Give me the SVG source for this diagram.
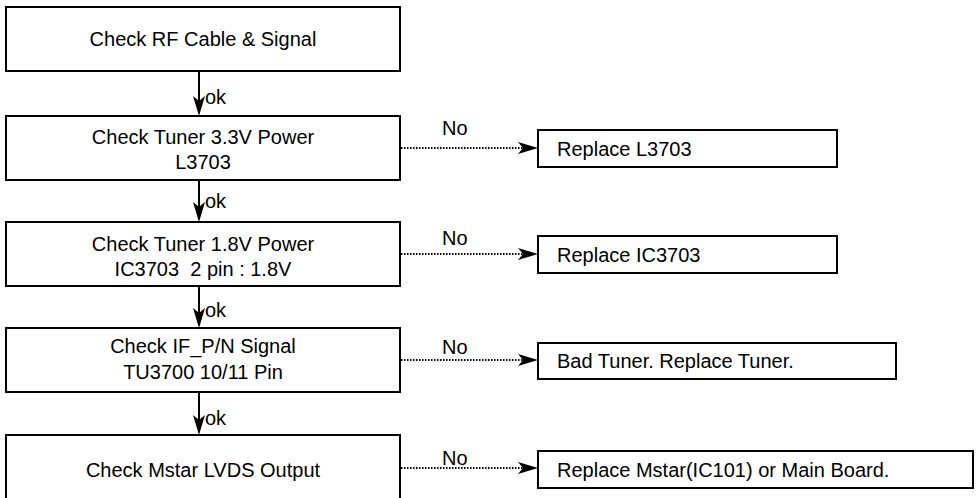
<svg xmlns="http://www.w3.org/2000/svg" width="976" height="498" viewBox="0 0 976 498">
<style>
.box{fill:#fff;stroke:#000;stroke-width:2}
text{font-family:"Liberation Sans",Arial,sans-serif;font-size:20px;fill:#000;white-space:pre}
.c{text-anchor:middle}
.solid{stroke:#000;stroke-width:2;fill:none}
.dot{stroke:#000;stroke-width:2;fill:none;stroke-dasharray:1.5 1.5}
</style>
<defs>
<marker id="ah" markerUnits="userSpaceOnUse" markerWidth="22" markerHeight="13" refX="8" refY="6" orient="auto">
<path d="M0,0 L20,6 L0,12 L5,6 Z" fill="#000"/>
</marker>
</defs>
<rect width="976" height="498" fill="#fff"/>
<g id="n1"><rect class="box" x="6" y="7" width="394" height="64"/><text class="c" x="203" y="46">Check RF Cable &amp; Signal</text></g>
<g id="n2"><rect class="box" x="6" y="116" width="394" height="64"/><text class="c" x="203" y="144">Check Tuner 3.3V Power</text><text class="c" x="203" y="169">L3703</text></g>
<g id="n3"><rect class="box" x="6" y="222" width="394" height="64"/><text class="c" x="203" y="251">Check Tuner 1.8V Power</text><text class="c" x="203" y="276" xml:space="preserve">IC3703  2 pin : 1.8V</text></g>
<g id="n4"><rect class="box" x="6" y="328" width="394" height="64"/><text class="c" x="203" y="353">Check IF_P/N Signal</text><text class="c" x="203" y="379">TU3700 10/11 Pin</text></g>
<g id="n5"><rect class="box" x="6" y="435" width="394" height="66"/><text class="c" x="203" y="477">Check Mstar LVDS Output</text></g>
<g id="r1"><rect class="box" x="538" y="130" width="299" height="37"/><text x="557" y="156">Replace L3703</text></g>
<g id="r2"><rect class="box" x="538" y="236" width="299" height="37"/><text x="557" y="262">Replace IC3703</text></g>
<g id="r3"><rect class="box" x="538" y="343" width="358" height="36"/><text x="557" y="368">Bad Tuner. Replace Tuner.</text></g>
<g id="r4"><rect class="box" x="538" y="451" width="435" height="37"/><text x="557" y="477">Replace Mstar(IC101) or Main Board.</text></g>
<g id="connectors">
<line class="solid" x1="199" y1="71" x2="199" y2="104" marker-end="url(#ah)"/>
<line class="solid" x1="199" y1="180" x2="199" y2="210" marker-end="url(#ah)"/>
<line class="solid" x1="199" y1="286" x2="199" y2="316" marker-end="url(#ah)"/>
<line class="solid" x1="199" y1="392" x2="199" y2="423" marker-end="url(#ah)"/>
<text x="205" y="104">ok</text>
<text x="205" y="208">ok</text>
<text x="205" y="317">ok</text>
<text x="205" y="425">ok</text>
<line class="dot" x1="401" y1="148" x2="526" y2="148" marker-end="url(#ah)"/>
<line class="dot" x1="401" y1="254" x2="526" y2="254" marker-end="url(#ah)"/>
<line class="dot" x1="401" y1="360" x2="526" y2="360" marker-end="url(#ah)"/>
<line class="dot" x1="401" y1="468" x2="526" y2="468" marker-end="url(#ah)"/>
<text x="442" y="135">No</text>
<text x="442" y="245">No</text>
<text x="442" y="354">No</text>
<text x="442" y="465">No</text>
</g>
</svg>
